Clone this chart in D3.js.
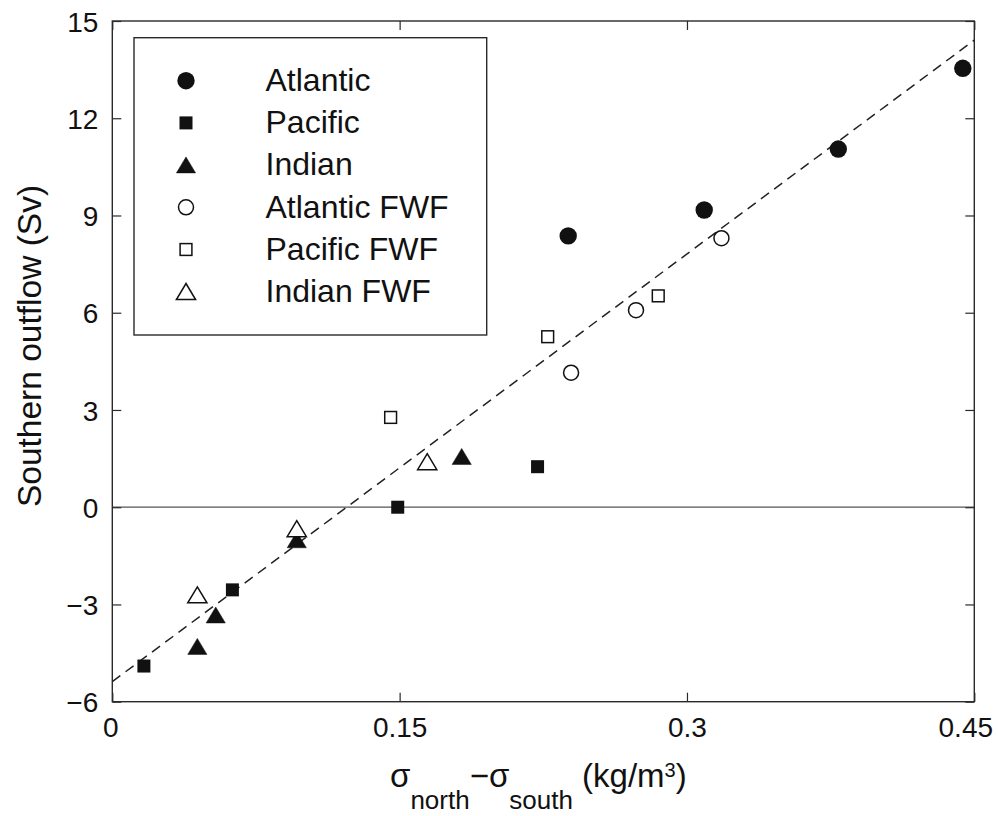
<!DOCTYPE html>
<html>
<head>
<meta charset="utf-8">
<script src="https://cdn.jsdelivr.net/npm/d3@7/dist/d3.min.js"></script>
<style>
  html, body { margin: 0; padding: 0; background: #fff; }
  svg { display: block; }
  text { font-family: "Liberation Sans", Arial, Helvetica, sans-serif; fill: #111; }
</style>
</head>
<body>
<svg id="chart" width="998" height="816"></svg>
<script>
// Density difference (kg/m^3) vs. southern outflow (Sv), one series per basin
const atlantic    = [[0.238, 8.37], [0.309, 9.17], [0.379, 11.05], [0.444, 13.54]];
const pacific     = [[0.0165, -4.90], [0.0627, -2.55], [0.149, 0.0], [0.222, 1.25]];
const indian      = [[0.0444, -4.30], [0.054, -3.33], [0.0963, -1.01], [0.1824, 1.56]];
const atlanticFWF = [[0.2395, 4.15], [0.2734, 6.08], [0.318, 8.30]];
const pacificFWF  = [[0.1453, 2.77], [0.2273, 5.26], [0.285, 6.52]];
const indianFWF   = [[0.0444, -2.71], [0.0963, -0.67], [0.1644, 1.40]];

// Least-squares fit drawn as a dashed line
const fitX = [0, 0.45];
const fitY = [-5.38, 14.41];

const xTicks = [0, 0.15, 0.3, 0.45];
const xTickLabels = ["0", "0.15", "0.3", "0.45"];
const yTicks = [-6, -3, 0, 3, 6, 9, 12, 15];
const yTickLabels = ["\u22126", "\u22123", "0", "3", "6", "9", "12", "15"];

const legendNames = ["Atlantic", "Pacific", "Indian", "Atlantic FWF", "Pacific FWF", "Indian FWF"];

const svg = d3.select("#chart");
const plot = { left: 112.3, right: 974.3, top: 21, bottom: 701.7 };

const x = d3.scaleLinear().domain([0, 0.45]).range([plot.left, plot.right]);
const y = d3.scaleLinear().domain([-6, 15]).range([plot.bottom, plot.top]);

const ink = "#111";
const frameColor = "#2a2a2a";
const tickLen = 9;

// marker shapes
const tri = "M0,-8.2L9.6,7.8L-9.6,7.8Z";
const styles = [
  { data: atlantic,    kind: "circle", r: 8.7, fill: ink },
  { data: pacific,     kind: "square", s: 13,  fill: ink },
  { data: indian,      kind: "tri",            fill: ink },
  { data: atlanticFWF, kind: "circle", r: 8.2, fill: "#fff" },
  { data: pacificFWF,  kind: "square", s: 13.3, fill: "#fff" },
  { data: indianFWF,   kind: "tri",            fill: "#fff" }
];

function drawMarker(g, st) {
  const open = st.fill === "#fff";
  if (st.kind === "circle") {
    g.append("circle").attr("r", st.r - (open ? 0.7 : 0))
      .attr("fill", st.fill).attr("stroke", ink).attr("stroke-width", open ? 1.5 : 0);
  } else if (st.kind === "square") {
    const s = st.s - (open ? 1.5 : 0);
    g.append("rect").attr("x", -s / 2).attr("y", -s / 2).attr("width", s).attr("height", s)
      .attr("fill", st.fill).attr("stroke", ink).attr("stroke-width", open ? 1.5 : 0);
  } else {
    g.append("path").attr("d", tri)
      .attr("fill", st.fill).attr("stroke", ink).attr("stroke-width", open ? 1.5 : 0.5)
      .attr("stroke-linejoin", "miter");
  }
}

// zero reference line
svg.append("line")
  .attr("x1", x(0)).attr("x2", x(0.45)).attr("y1", y(0)).attr("y2", y(0))
  .attr("stroke", "#555").attr("stroke-width", 1.2);

// axes (ticks point inward on all four sides)
const axL = svg.append("g").attr("transform", `translate(${plot.left},0)`)
  .call(d3.axisLeft(y).tickValues(yTicks).tickFormat((d, i) => yTickLabels[i])
    .tickSizeInner(-tickLen).tickSizeOuter(0).tickPadding(14));
const axR = svg.append("g").attr("transform", `translate(${plot.right},0)`)
  .call(d3.axisRight(y).tickValues(yTicks).tickFormat("").tickSizeInner(-tickLen).tickSizeOuter(0));
const axB = svg.append("g").attr("transform", `translate(0,${plot.bottom})`)
  .call(d3.axisBottom(x).tickValues(xTicks).tickFormat((d, i) => xTickLabels[i])
    .tickSizeInner(-tickLen).tickSizeOuter(0).tickPadding(15));
const axT = svg.append("g").attr("transform", `translate(0,${plot.top})`)
  .call(d3.axisTop(x).tickValues(xTicks).tickFormat("").tickSizeInner(-tickLen).tickSizeOuter(0));

[axL, axR, axB, axT].forEach(a => {
  a.select(".domain").remove();
  a.selectAll(".tick line").attr("stroke", frameColor).attr("stroke-width", 1.2);
  a.selectAll(".tick text").attr("font-size", 28).attr("fill", ink)
    .style("font-family", '"Liberation Sans", Arial, sans-serif');
});
axL.selectAll(".tick text").attr("dy", "0.36em");
axB.selectAll(".tick text").attr("dx", (d, i) => i === xTicks.length - 1 ? -9 : (i === 0 ? -2 : 0));

// frame
svg.append("rect")
  .attr("x", plot.left).attr("y", plot.top)
  .attr("width", plot.right - plot.left).attr("height", plot.bottom - plot.top)
  .attr("fill", "none").attr("stroke", frameColor).attr("stroke-width", 1.4);

// dashed fit line
svg.append("line")
  .attr("x1", x(fitX[0])).attr("y1", y(fitY[0]))
  .attr("x2", x(fitX[1])).attr("y2", y(fitY[1]))
  .attr("stroke", "#222").attr("stroke-width", 1.5)
  .attr("stroke-dasharray", "10,6.5");

// data markers
styles.forEach(st => {
  st.data.forEach(p => {
    const g = svg.append("g").attr("transform", `translate(${x(p[0])},${y(p[1])})`);
    drawMarker(g, st);
  });
});

// legend
const legend = svg.append("g");
legend.append("rect")
  .attr("x", 134).attr("y", 37.7).attr("width", 352.7).attr("height", 297.3)
  .attr("fill", "#fff").attr("stroke", frameColor).attr("stroke-width", 1.4);
legendNames.forEach((name, i) => {
  const cy = 80.7 + i * 42.2;
  const g = legend.append("g").attr("transform", `translate(186,${cy})`);
  drawMarker(g, styles[i]);
  legend.append("text").attr("x", 265.5).attr("y", cy).attr("dy", "0.32em")
    .attr("font-size", 32).text(name);
});

// axis titles
svg.append("text")
  .attr("transform", "translate(41,346) rotate(-90)")
  .attr("text-anchor", "middle").attr("font-size", 33.5)
  .text("Southern outflow (Sv)");

const xt = svg.append("text").attr("x", 390).attr("y", 787).attr("font-size", 33);
xt.append("tspan").text("\u03c3");
xt.append("tspan").attr("dy", 22).attr("font-size", 26).text("north");
xt.append("tspan").attr("dy", -22).text("\u2212\u03c3");
xt.append("tspan").attr("dy", 22).attr("font-size", 26).text("south");
xt.append("tspan").attr("dy", -22).text(" (kg/m");
xt.append("tspan").attr("dy", -10).attr("font-size", 20).text("3");
xt.append("tspan").attr("dy", 10).text(")");
</script>
</body>
</html>
